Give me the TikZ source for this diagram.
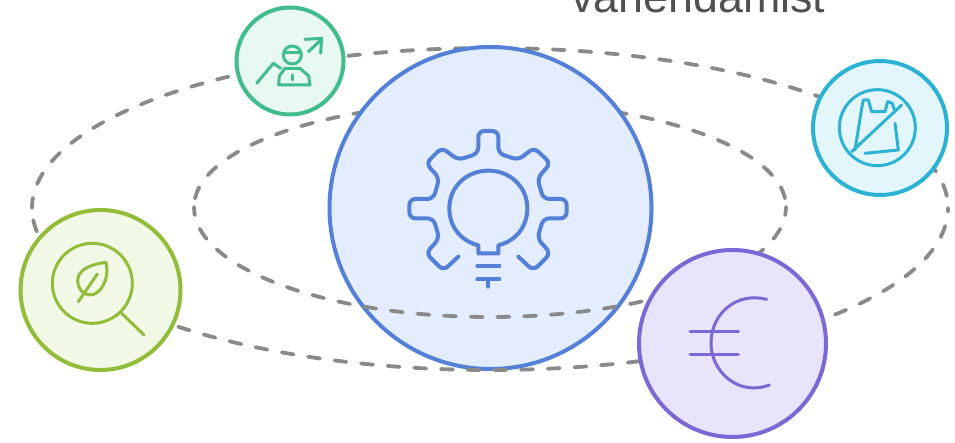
\documentclass[tikz,border=0pt]{standalone}
\usepackage{fontspec}
\setmainfont{Liberation Sans}
\definecolor{dashgrey}{HTML}{8A8A8A}
\definecolor{labelgrey}{HTML}{505050}
\definecolor{bluel}{HTML}{5580D8}\definecolor{bluef}{HTML}{E3EDFD}
\definecolor{greenl}{HTML}{41BD8C}\definecolor{greenf}{HTML}{E8F9F2}
\definecolor{cyanl}{HTML}{2CB3D3}\definecolor{cyanf}{HTML}{E3F6FB}
\definecolor{limel}{HTML}{92BD3A}\definecolor{limef}{HTML}{F2F9E6}
\definecolor{purplel}{HTML}{7B68D5}\definecolor{purplef}{HTML}{E9E4FB}
\tikzset{
  orbit/.style={draw=dashgrey,line width=3.8pt,line cap=round,dash pattern=on 12pt off 14.7pt,dash phase=#1},
  badge/.style={circle,draw=#1l,fill=#1f,line width=4pt,inner sep=0pt,outer sep=0pt},
  icon/.style={draw=#1l,line width=1.5pt,line cap=round,line join=round},
  iconz/.style={shift={#1},x=0.3333pt,y=-0.3333pt}
}
\begin{document}
\begin{tikzpicture}[x=1pt,y=-1pt]
\useasboundingbox (0,0) rectangle (955,443);
\fill[white] (0,0) rectangle (955,443);
% upper halves pass behind the central circle
\draw[orbit=3.4pt] (490,48) .. controls (237,48) and (32,119.6) .. (32,208);
\draw[orbit=17.4pt] (490,48) .. controls (743,48) and (948,119.6) .. (948,208);
\draw[orbit=8pt] (490,102) .. controls (326.5,102) and (194,149) .. (194,207);
\draw[orbit=8pt] (490,102) .. controls (653.5,102) and (786,149) .. (786,207);
\node[badge=blue,minimum size=322pt] (core) at (490.5,208) {};
% lower halves pass in front of it
\draw[orbit=19.35pt] (490,317) .. controls (326.5,317) and (194,267.8) .. (194,207);
\draw[orbit=19.35pt] (490,317) .. controls (653.5,317) and (786,267.8) .. (786,207);
\draw[orbit=16.35pt] (490,370) .. controls (237,370) and (32,297.5) .. (32,208);
\draw[orbit=22.35pt] (490,370) .. controls (743,370) and (948,297.5) .. (948,208);
\node[badge=green,minimum size=107pt] (growth) at (290,61) {};
\node[badge=cyan,minimum size=134pt] (bag) at (880,128) {};
\node[badge=lime,minimum size=160pt] (leaf) at (100.5,290) {};
\node[badge=purple,minimum size=187pt] (euro) at (732.5,343.5) {};
\node[anchor=base west,inner sep=0pt,text=labelgrey,font=\fontsize{44.8}{50}\selectfont] (title) at (571,13) {vähendamist};
% gear and bulb
\begin{scope}[iconz={(400pt,-120pt)}]
\draw[icon=blue,line width=4pt,rounded corners=6pt] (175,410) -- (130,452) -- (78,400) -- (118,355) -- (100,295) -- (28,295) -- (28,237) -- (100,237) -- (118,175) -- (78,130) -- (125,83) -- (175,120) -- (235,100) -- (235,33) -- (295,33) -- (295,100) -- (355,120) -- (402,83) -- (452,130) -- (412,175) -- (430,237) -- (500,237) -- (500,295) -- (430,295) -- (412,355) -- (452,400) -- (400,452) -- (355,410);
\draw[icon=blue,line width=4pt] (235,376) .. controls (180,362) and (148,318) .. (148,265) .. controls (148,200) and (200,152) .. (265,152) .. controls (330,152) and (382,200) .. (382,265) .. controls (382,318) and (350,362) .. (295,376) -- (295,400) -- (235,400) -- cycle;
\draw[icon=blue,line width=4pt] (232,437) -- (298,437) (232,478) -- (298,478) (265,478) -- (265,500);
\end{scope}
% growth person
\begin{scope}[iconz={(230pt,0pt)}]
\draw[icon=green,line width=3pt] (80,250) -- (130,190) -- (152,205);
\draw[icon=green,line width=3pt] (235,155) -- (275,118) (225,118) -- (275,115) -- (272,160);
\draw[icon=green,line width=3pt] (187,165) circle [radius=27];
\draw[icon=green,line width=3pt] (165,158) -- (209,158);
\draw[icon=green,line width=3pt] (165,205) -- (148,228) -- (146,255) -- (240,255) -- (236,228) -- (210,205) -- cycle;
\draw[icon=green,line width=3pt] (188,225) -- (188,240);
\end{scope}
% no plastic bag
\begin{scope}[iconz={(805pt,-55pt)}]
\draw[icon=cyan,line width=3pt] (217,218) circle [radius=114];
\draw[icon=cyan,line width=3pt] (140,290) -- (290,150);
\draw[icon=cyan,line width=3pt] (150,285) -- (170,160) -- (175,135) -- (190,135) -- (200,170) -- (240,170) -- (248,140) -- (262,145) -- (268,165);
\draw[icon=cyan,line width=3pt] (270,205) -- (280,285) -- (180,295);
\end{scope}
% leaf under lens
\begin{scope}[iconz={(10pt,-200pt)}]
\draw[icon=lime,line width=3pt] (247,250) circle [radius=120];
\draw[icon=lime,line width=3pt] (335,340) -- (402,405);
\draw[icon=lime,line width=3pt] (288,187) .. controls (250,192) and (205,205) .. (203,240) .. controls (203,268) and (222,285) .. (240,285) .. controls (270,285) and (300,240) .. (288,187) -- cycle;
\draw[icon=lime,line width=3pt] (205,305) -- (262,222);
\end{scope}
% euro
\begin{scope}[iconz={(630pt,-240pt)}]
\draw[icon=purple,line width=3pt] (410,178) .. controls (320,155) and (243,220) .. (243,310) .. controls (243,395) and (325,470) .. (418,435);
\draw[icon=purple,line width=3pt] (180,275) -- (325,275) (180,345) -- (325,345);
\end{scope}
\end{tikzpicture}
\end{document}
